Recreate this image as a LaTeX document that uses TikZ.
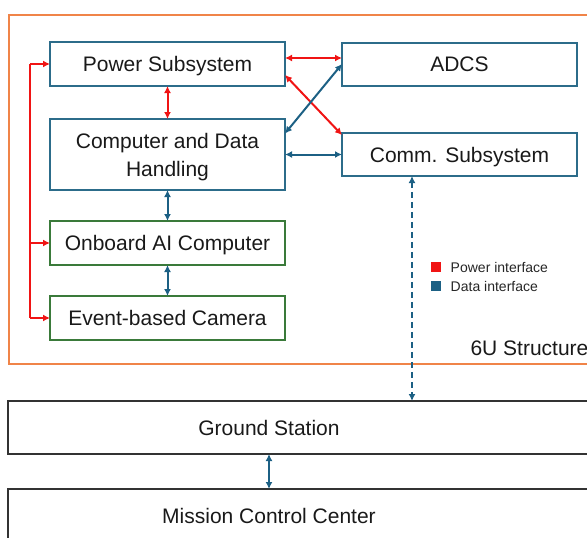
\documentclass[tikz,border=0pt]{standalone}
\usepackage{fontspec}
\setmainfont{Liberation Sans}
\usetikzlibrary{arrows.meta}
\usetikzlibrary{positioning}
\definecolor{pwrred}{RGB}{240,20,20}
\definecolor{datablue}{RGB}{28,96,132}
\definecolor{boxblue}{RGB}{44,108,138}
\definecolor{boxgreen}{RGB}{58,122,58}
\definecolor{frameorange}{RGB}{240,132,72}
\definecolor{txt}{RGB}{25,25,25}
\tikzset{every node/.style={font=\fontsize{21}{28}\selectfont, text=txt},
         sysbox/.style={draw=boxblue, line width=2pt, minimum width=235pt, minimum height=44pt, inner sep=0pt, outer sep=0pt, text depth=0pt, align=center},
         aibox/.style={sysbox, draw=boxgreen},
         gndbox/.style={minimum width=522pt, minimum height=53pt, inner sep=0pt, outer sep=0pt, text depth=0pt},
         power/.style={draw=pwrred, line width=2pt},
         data/.style={draw=datablue, line width=2pt},
         tip/.style={-{Latex[length=7pt,width=7pt]}},
         both/.style={{Latex[length=7pt,width=7pt]}-{Latex[length=7pt,width=7pt]}},
         keysq/.style={minimum size=10pt, inner sep=0pt},
         keytext/.style={font=\fontsize{14}{16}\selectfont, text=black!85},
         }
\begin{document}
\begin{tikzpicture}[x=1pt, y=-1pt]
\useasboundingbox (0,0) rectangle (587,538);
\clip (0,0) rectangle (587,538);
\draw[frameorange, line width=2pt] (9,15) rectangle (620,364);
\node (frame) [anchor=base west] at (467,355) {6U Structure};

\node (pwr) [sysbox] at (167.5,64) {Power Subsystem};
\node (cdh) [sysbox, minimum height=71pt, below=33pt of pwr] {Computer and Data\\Handling};
\node (ai) [aibox, below=31pt of cdh] {Onboard AI Computer};
\node (cam) [aibox, below=31pt of ai] {Event-based Camera};
\node (adcs) [sysbox, minimum height=43pt, right=57pt of pwr] {ADCS};
\node (comm) [sysbox, minimum height=43pt, right=57pt of cdh] {Comm. Subsystem};

\node (pwrkey) [keysq, fill=pwrred] at (436,267) {};
\node [keytext, right=6pt of pwrkey] {Power interface};
\node (datakey) [keysq, fill=datablue] at (436,286) {};
\node [keytext, right=6pt of datakey] {Data interface};

\node (gs) [gndbox] at (269,427.5) {Ground Station};
\node (mcc) [gndbox, below=35pt of gs] {Mission Control Center};
\draw[line width=2pt, draw=black!80] (gs.north west) rectangle ([xshift=80pt]gs.south east);
\draw[line width=2pt, draw=black!80] (mcc.north west) rectangle ([xshift=80pt,yshift=-20pt]mcc.south east);

\coordinate (bustop) at (30,64);
\coordinate (busbot) at (30,318);
\draw[power] (bustop) -- (busbot);
\draw[power, tip] (bustop) -- (pwr.west);
\draw[power, tip] (ai.west -| bustop) -- (ai.west);
\draw[power, tip] (busbot) -- (cam.west);
\draw[power, both] (pwr) -- (cdh);
\draw[power, both] ([yshift=6pt]pwr.east) -- ([yshift=6pt]pwr.east -| adcs.west);
\draw[power, both] ([yshift=-11pt]pwr.east) -- ([yshift=-2pt]comm.north west);

\draw[data, both] (adcs.west) -- ([yshift=21pt]cdh.east);
\draw[data, both] (cdh.east) -- (comm.west);
\draw[data, both] (cdh) -- (ai);
\draw[data, both] (ai) -- (cam);
\draw[data, both, dash pattern=on 6pt off 4pt] ([xshift=-47.5pt]comm.south) -- ([xshift=-47.5pt]comm.south |- gs.north);
\draw[data, both] (gs) -- (mcc);
\end{tikzpicture}
\end{document}
